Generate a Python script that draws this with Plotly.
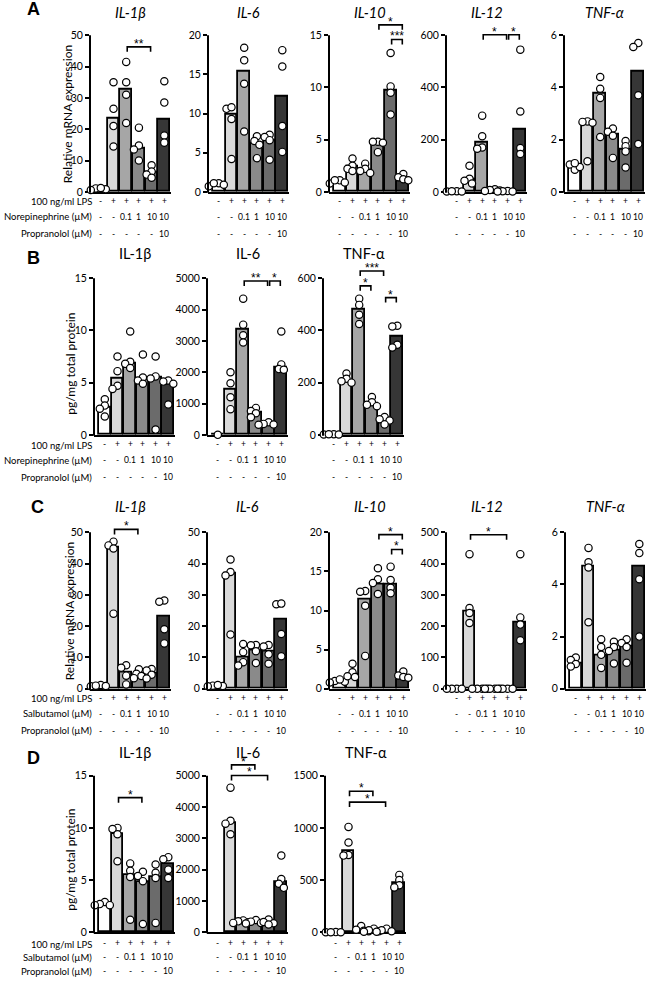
import math
import plotly.graph_objects as go

FIG_W, FIG_H = 648, 985

BAR_COLORS = ["#ffffff", "#d9d9d9", "#a6a6a6", "#8a8a8a", "#6b6b6b", "#363636"]
CATS = [0, 1, 2, 3, 4, 5]
LPS_ROW = ["-", "+", "+", "+", "+", "+"]
DOSE_ROW = ["-", "-", "0.1", "1", "10", "10"]
PROP_ROW = ["-", "-", "-", "-", "-", "10"]

# ---------------- Panel A (mRNA, norepinephrine) ----------------
A_IL1B_bar = [1.0, 23.5, 32.7, 13.8, 6.2, 23.2]
A_IL1B_pts = [[1.1, 0.6, 0.8, 1.2], [35.0, 26.5, 21.0, 14.5], [41.5, 35.0, 31.0, 22.0],
              [20.5, 14.8, 13.5, 10.0], [8.5, 6.5, 5.5, 4.5], [35.3, 28.5, 18.0, 15.7]]
A_IL1B_sig = [(2, 4, 46.3, "**")]

A_IL6_bar = [0.9, 9.8, 15.3, 6.1, 6.6, 12.1]
A_IL6_pts = [[1.1, 0.7, 0.9, 1.1], [10.6, 10.8, 9.3, 4.2], [18.4, 16.8, 13.8, 7.7],
             [7.1, 6.5, 6.0, 4.3], [7.3, 7.0, 6.6, 4.1], [18.1, 16.0, 8.4, 5.1]]
A_IL6_sig = []

A_IL10_bar = [0.9, 2.4, 2.0, 4.7, 9.7, 1.3]
A_IL10_pts = [[1.1, 0.8, 0.9, 1.1], [3.2, 2.5, 2.2, 2.0], [2.7, 2.2, 2.0, 1.8],
              [4.8, 4.8, 4.7, 3.8], [13.3, 10.1, 9.5, 7.4], [1.7, 1.4, 1.2, 1.1]]
A_IL10_sig = [(3, 5, 16.0, "*"), (4, 5, 14.6, "***")]

A_IL12_bar = [1, 45, 188, 8, 2, 237]
A_IL12_pts = [[2, 1, 1, 2], [100, 50, 42, 32], [292, 213, 170, 165],
              [10, 7, 5, 3], [3, 2, 1, 1], [545, 308, 168, 145]]
A_IL12_sig = [(2, 4, 602, "*"), (4, 5, 602, "*")]

A_TNF_bar = [1.0, 2.63, 3.77, 2.2, 1.63, 4.6]
A_TNF_pts = [[1.05, 0.85, 0.95, 1.1], [2.7, 2.68, 2.65, 1.17], [4.4, 3.95, 3.6, 2.1],
             [2.43, 2.3, 2.15, 1.3], [1.95, 1.75, 1.55, 0.93], [5.7, 5.55, 3.7, 1.83]]
A_TNF_sig = []

# ---------------- Panel B (protein, norepinephrine) ----------------
B_IL1B_bar = [2.6, 5.4, 6.8, 5.3, 5.5, 4.8]
B_IL1B_pts = [[3.4, 2.8, 2.5, 1.75], [7.5, 6.1, 4.7, 4.4], [9.9, 7.0, 6.8, 6.4],
              [7.7, 5.5, 5.2, 4.9], [7.5, 5.6, 5.4, 0.5], [5.2, 5.1, 4.9, 2.9]]
B_IL1B_sig = []

B_IL6_bar = [0, 1450, 3350, 720, 330, 2150]
B_IL6_pts = [[0], [2000, 1650, 1200, 820], [4350, 3520, 3180, 2950],
             [860, 760, 690, 560], [400, 350, 320, 330], [3300, 2250, 2100, 2080]]
B_IL6_sig = [(2, 4, 4914, "**"), (4, 5, 4914, "*")]

B_TNF_bar = [0, 203, 478, 118, 55, 375]
B_TNF_pts = [[2, 1, 1, 2], [235, 215, 205, 200], [522, 498, 460, 425],
             [145, 125, 115, 110], [68, 60, 55, 40], [418, 415, 345, 335]]
B_TNF_sig = [(2, 4, 628, "***"), (2, 3, 571, "*"), (4, 5, 526, "*")]

# ---------------- Panel C (mRNA, salbutamol) ----------------
C_IL1B_bar = [1.0, 45.0, 5.3, 4.2, 4.7, 23.2]
C_IL1B_pts = [[1.2, 0.8, 0.9, 1.0], [47.0, 45.8, 44.8, 24.0], [7.5, 6.7, 4.2, 1.4],
              [6.2, 4.8, 4.1, 3.4], [6.3, 5.8, 4.5, 3.3], [28.2, 27.8, 19.0, 14.5]]
C_IL1B_sig = [(1, 3, 50.9, "*")]

C_IL6_bar = [0.9, 36.8, 9.9, 12.3, 11.8, 22.0]
C_IL6_pts = [[1.0, 0.8, 0.9, 1.2], [41.3, 37.3, 36.2, 17.3], [14.3, 11.7, 8.5, 7.4],
             [14.0, 13.9, 12.0, 8.2], [14.0, 13.5, 11.0, 8.0], [27.0, 27.2, 17.5, 10.4]]
C_IL6_sig = []

C_IL10_bar = [0.9, 1.8, 11.4, 13.3, 13.3, 1.6]
C_IL10_pts = [[1.0, 0.8, 0.9, 1.2], [3.2, 2.1, 1.6, 1.5], [12.5, 12.4, 10.6, 4.2],
              [15.4, 14.0, 13.5, 12.1], [15.6, 13.9, 12.9, 12.2], [2.2, 1.7, 1.5, 1.4]]
C_IL10_sig = [(3, 5, 19.7, "*"), (4, 5, 17.8, "*")]

C_IL12_bar = [0, 248, 0, 0, 0, 213]
C_IL12_pts = [[0, 0, 0, 0], [430, 258, 242, 210], [0, 0, 0, 0],
              [0, 0, 0, 0], [0, 0, 0, 0], [430, 228, 205, 155]]
C_IL12_sig = [(1, 4, 492, "*")]

C_TNF_bar = [0.97, 4.68, 1.27, 1.48, 1.62, 4.7]
C_TNF_pts = [[1.2, 1.1, 0.95, 0.85], [5.4, 4.85, 4.65, 2.55], [1.9, 1.6, 1.3, 0.8],
             [1.8, 1.6, 1.45, 0.97], [1.9, 1.75, 1.6, 1.0], [5.55, 5.2, 4.2, 2.0]]
C_TNF_sig = []

# ---------------- Panel D (protein, salbutamol) ----------------
D_IL1B_bar = [2.6, 9.4, 5.5, 4.8, 5.3, 6.5]
D_IL1B_pts = [[2.9, 2.7, 2.6, 2.6], [10.0, 9.9, 9.4, 6.8], [6.6, 5.9, 5.3, 1.2],
              [5.8, 5.4, 4.9, 0.8], [6.5, 5.7, 5.2, 0.9], [7.2, 7.0, 6.0, 5.2]]
D_IL1B_sig = [(1, 3, 12.9, "*")]

D_IL6_bar = [None, 3500, 330, 310, 290, 1600]
D_IL6_pts = [[], [4620, 3560, 3470, 3130], [380, 350, 320, 300],
             [390, 340, 300, 280], [410, 330, 290, 250], [2450, 1700, 1550, 1420]]
D_IL6_sig = [(1, 3, 5348, "*"), (1, 4, 5009, "*")]

D_TNF_bar = [0, 780, 20, 15, 15, 470]
D_TNF_pts = [[2, 0, 0, 1], [1010, 860, 740, 735], [60, 25, 15, 10],
             [35, 20, 10, 5], [35, 20, 10, 5], [550, 500, 450, 430]]
D_TNF_sig = [(1, 3, 1351, "*"), (1, 4, 1247, "*")]

# ---------------- layout configuration ----------------
ROWS = {
    "A": dict(y0=193, xl=[90, 208, 329, 446, 564], title_y=13, lab_y=[202, 218, 235],
              drug="Norepinephrine (µM)", ytitle="Relative mRNA expression",
              ytitle_pos=(67, 115), letter_pos=(33, 9.5), italic=True),
    "B": dict(y0=437.5, xl=[94, 207, 323], title_y=255, lab_y=[447, 463, 480],
              drug="Norepinephrine (µM)", ytitle="pg/mg total protein",
              ytitle_pos=(71, 366), letter_pos=(33, 259.5), italic=False),
    "C": dict(y0=693, xl=[90, 207, 329, 446, 565], title_y=510, lab_y=[702, 718, 735],
              drug="Salbutamol (µM)", ytitle="Relative mRNA expression",
              ytitle_pos=(69, 615), letter_pos=(37, 510), italic=True),
    "D": dict(y0=938, xl=[94, 207, 325], title_y=757, lab_y=[949, 963, 977],
              drug="Salbutamol (µM)", ytitle="pg/mg total protein",
              ytitle_pos=(71, 865), letter_pos=(33, 763), italic=False),
}

PANELS = [
    ("A", 0, "IL-1β", A_IL1B_bar, A_IL1B_pts, A_IL1B_sig, 50, 10),
    ("A", 1, "IL-6", A_IL6_bar, A_IL6_pts, A_IL6_sig, 20, 5),
    ("A", 2, "IL-10", A_IL10_bar, A_IL10_pts, A_IL10_sig, 15, 5),
    ("A", 3, "IL-12", A_IL12_bar, A_IL12_pts, A_IL12_sig, 600, 200),
    ("A", 4, "TNF-α", A_TNF_bar, A_TNF_pts, A_TNF_sig, 6, 2),
    ("B", 0, "IL-1β", B_IL1B_bar, B_IL1B_pts, B_IL1B_sig, 15, 5),
    ("B", 1, "IL-6", B_IL6_bar, B_IL6_pts, B_IL6_sig, 5000, 1000),
    ("B", 2, "TNF-α", B_TNF_bar, B_TNF_pts, B_TNF_sig, 600, 200),
    ("C", 0, "IL-1β", C_IL1B_bar, C_IL1B_pts, C_IL1B_sig, 50, 10),
    ("C", 1, "IL-6", C_IL6_bar, C_IL6_pts, C_IL6_sig, 50, 10),
    ("C", 2, "IL-10", C_IL10_bar, C_IL10_pts, C_IL10_sig, 20, 5),
    ("C", 3, "IL-12", C_IL12_bar, C_IL12_pts, C_IL12_sig, 500, 100),
    ("C", 4, "TNF-α", C_TNF_bar, C_TNF_pts, C_TNF_sig, 6, 2),
    ("D", 0, "IL-1β", D_IL1B_bar, D_IL1B_pts, D_IL1B_sig, 15, 5),
    ("D", 1, "IL-6", D_IL6_bar, D_IL6_pts, D_IL6_sig, 5000, 1000),
    ("D", 2, "TNF-α", D_TNF_bar, D_TNF_pts, D_TNF_sig, 1500, 500),
]

PX_H = 157.5          # pixels from 0 to top tick
HEAD = 1.1            # head room above top tick for brackets
DOM_W = 81.3          # pixel width of each subplot
XR = [-0.85, 5.55]
PXU = DOM_W / (XR[1] - XR[0])
FONT = "Lato, 'Open Sans', sans-serif"
DMIN, STEP = 5.0, 2.5


def px_x(p):
    return p / FIG_W


def px_y(p):
    return 1 - p / FIG_H


def swarm(vals, ppu):
    placed = []
    out = [0.0] * len(vals)
    order = sorted(range(len(vals)), key=lambda i: -vals[i])
    for i in order:
        py = vals[i] * ppu
        k = 0
        chosen = None
        while chosen is None:
            cands = [0.0] if k == 0 else [-k * STEP, k * STEP]
            for c in cands:
                if all(math.hypot(py - qy, c - qx) >= DMIN for qy, qx in placed):
                    chosen = c
                    break
            k += 1
        placed.append((py, chosen))
        out[i] = chosen / PXU
    return out


fig = go.Figure()
annotations = []
shapes = []

for k, (row, col, title, bars, pts, sig, ymax, dtick) in enumerate(PANELS, start=1):
    cfg = ROWS[row]
    xl = cfg["xl"][col]
    y0 = cfg["y0"]
    xa = "x" if k == 1 else f"x{k}"
    ya = "y" if k == 1 else f"y{k}"
    xkey = "xaxis" if k == 1 else f"xaxis{k}"
    ykey = "yaxis" if k == 1 else f"yaxis{k}"
    ppu = PX_H / ymax

    fig.add_trace(go.Bar(
        x=CATS, y=bars, xaxis=xa, yaxis=ya, width=0.94,
        marker=dict(color=BAR_COLORS, line=dict(color="black", width=1.8)),
        showlegend=False, hoverinfo="skip"))

    xs, ys = [], []
    for i, grp in enumerate(pts):
        offs = swarm(grp, ppu)
        for v, o in zip(grp, offs):
            xs.append(CATS[i] + o)
            ys.append(v)
    fig.add_trace(go.Scatter(
        x=xs, y=ys, xaxis=xa, yaxis=ya, mode="markers", cliponaxis=False,
        marker=dict(symbol="circle", size=7.3, color="white",
                    line=dict(color="black", width=1.2)),
        showlegend=False, hoverinfo="skip"))

    # significance brackets
    drop = 5.0 / ppu
    for (a, b, lvl, star) in sig:
        xa0 = CATS[a] + 0.08
        xb0 = CATS[b] - 0.08
        fig.add_trace(go.Scatter(
            x=[xa0, xa0, xb0, xb0], y=[lvl - drop, lvl, lvl, lvl - drop],
            xaxis=xa, yaxis=ya, mode="lines", line=dict(color="black", width=1.6),
            showlegend=False, hoverinfo="skip"))
        annotations.append(dict(
            x=(xa0 + xb0) / 2, y=lvl, xref=xa, yref=ya, text=star, showarrow=False,
            yanchor="bottom", yshift=-6,
            font=dict(family="Liberation Sans, Arial", size=12, color="black")))

    fig.update_layout(**{
        xkey: dict(domain=[px_x(xl), px_x(xl + DOM_W)], range=XR, anchor=ya,
                   showline=True, linecolor="black", linewidth=2, ticks="",
                   showticklabels=False, showgrid=False, zeroline=False,
                   layer="below traces", fixedrange=True),
        ykey: dict(domain=[px_y(y0), px_y(y0 - PX_H * HEAD)], range=[0, ymax * HEAD],
                   anchor=xa, showline=False, showgrid=False, zeroline=False,
                   tickmode="array",
                   tickvals=list(range(0, ymax + dtick, dtick)),
                   ticks="outside", ticklen=4, tickwidth=1.6, tickcolor="black",
                   tickfont=dict(family=FONT, size=10.5, color="black"),
                   layer="below traces", fixedrange=True),
    })

    # y axis line only up to top tick
    shapes.append(dict(type="line", xref="paper", yref="paper",
                       x0=px_x(xl), x1=px_x(xl), y0=px_y(y0 + 1), y1=px_y(y0 - PX_H),
                       line=dict(color="black", width=2)))

    # title
    ttxt = f"<i>{title}</i>" if cfg["italic"] else title
    annotations.append(dict(
        x=px_x(xl + DOM_W / 2), y=px_y(cfg["title_y"]), xref="paper", yref="paper",
        text=ttxt, showarrow=False, xanchor="center", yanchor="middle",
        font=dict(family=FONT, size=14.5, color="black")))

    # condition rows under the axis
    for r, labels in enumerate([LPS_ROW, DOSE_ROW, PROP_ROW]):
        for i, t in enumerate(labels):
            annotations.append(dict(
                x=CATS[i], y=px_y(cfg["lab_y"][r]), xref=xa, yref="paper", text=t,
                showarrow=False, xanchor="center", yanchor="middle",
                font=dict(family=FONT, size=8.5, color="black")))

# row-level texts
for row, cfg in ROWS.items():
    for r, lab in enumerate(["100 ng/ml LPS", cfg["drug"], "Propranolol (µM)"]):
        annotations.append(dict(
            x=px_x(94), y=px_y(cfg["lab_y"][r] + (1 if r == 0 else 0)), xref="paper",
            yref="paper", text=lab,
            showarrow=False, xanchor="right", yanchor="middle",
            font=dict(family=FONT, size=9.5, color="black")))
    tx, ty = cfg["ytitle_pos"]
    annotations.append(dict(
        x=px_x(tx), y=px_y(ty), xref="paper", yref="paper", text=cfg["ytitle"],
        textangle=-90, showarrow=False, xanchor="center", yanchor="middle",
        font=dict(family=FONT, size=12, color="black")))
    lx, ly = cfg["letter_pos"]
    annotations.append(dict(
        x=px_x(lx), y=px_y(ly), xref="paper", yref="paper", text=f"<b>{row}</b>",
        showarrow=False, xanchor="center", yanchor="middle",
        font=dict(family="Liberation Sans, Arial", size=18, color="black")))

fig.update_layout(
    width=FIG_W, height=FIG_H, margin=dict(l=0, r=0, t=0, b=0),
    paper_bgcolor="white", plot_bgcolor="rgba(0,0,0,0)",
    bargap=0, annotations=annotations, shapes=shapes, showlegend=False,
    font=dict(family=FONT, color="black"))

fig.write_html("out.html",
               config={"displayModeBar": False},
               post_script="document.body.style.margin='0px';"
                           "document.body.style.padding='0px';")
